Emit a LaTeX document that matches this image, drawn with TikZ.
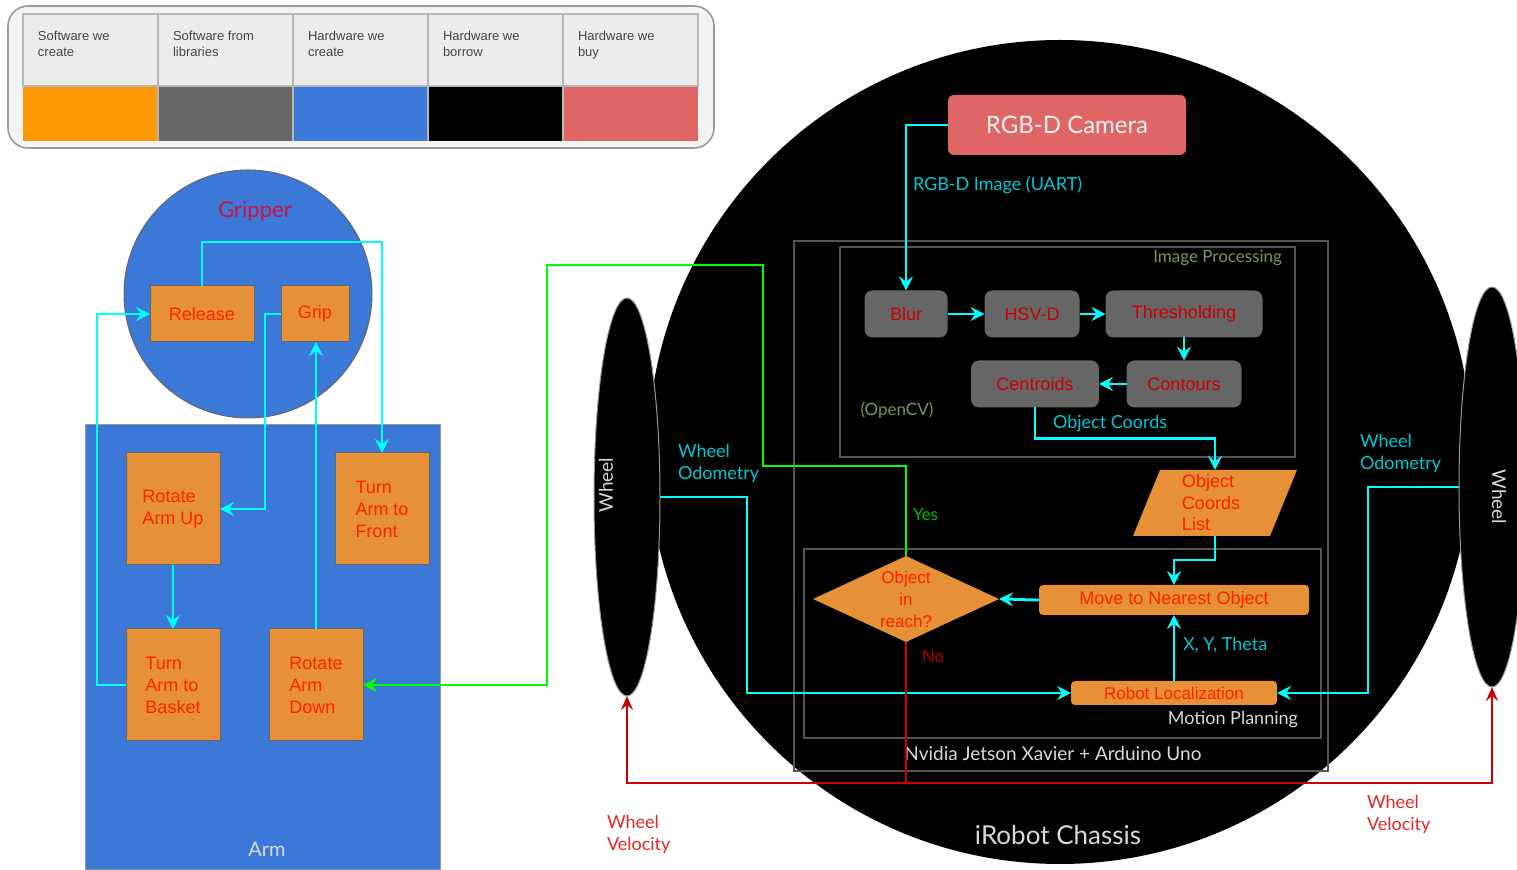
\documentclass[tikz,border=0pt]{standalone}
\usepackage{fontspec}
\setmainfont{Liberation Sans}
\newfontfamily\latofont{Lato}
\usetikzlibrary{arrows.meta,shapes.geometric}
\definecolor{cff9900}{RGB}{255,153,0}
\definecolor{c666666}{RGB}{102,102,102}
\definecolor{c3c78d8}{RGB}{60,120,216}
\definecolor{ce06666}{RGB}{224,102,102}
\definecolor{ce69138}{RGB}{230,145,56}
\definecolor{cececec}{RGB}{236,236,236}
\definecolor{cf3f3f3}{RGB}{243,243,243}
\definecolor{cb7b7b7}{RGB}{183,183,183}
\definecolor{c999999}{RGB}{153,153,153}
\definecolor{c555555}{RGB}{85,85,85}
\definecolor{c444444}{RGB}{68,68,68}
\definecolor{cff2200}{RGB}{255,34,0}
\definecolor{ccc0000}{RGB}{204,0,0}
\definecolor{caa0000}{RGB}{170,0,0}
\definecolor{ce02828}{RGB}{224,40,40}
\definecolor{c00ffff}{RGB}{0,255,255}
\definecolor{c00c8d2}{RGB}{0,200,210}
\definecolor{c00ff00}{RGB}{0,255,0}
\definecolor{c00c000}{RGB}{0,192,0}
\definecolor{c7a965a}{RGB}{122,150,90}
\definecolor{cd9d9d9}{RGB}{217,217,217}
\definecolor{ccc1144}{RGB}{204,17,68}

\tikzset{
  legtext/.style={anchor=north west, align=left, text=c444444,
    font=\fontsize{6.5}{8}\selectfont},
  armbox/.style={draw=c666666, fill=ce69138, text=cff2200, align=left,
    line width=0.5pt, font=\fontsize{9}{11}\selectfont},
  libbox/.style={fill=c666666, rounded corners=4pt, text=ccc0000,
    font=\fontsize{9}{11}\selectfont},
  planbox/.style={fill=ce69138, rounded corners=2pt, text=cff2200,
    font=\fontsize{8.5}{10.5}\selectfont},
  frame/.style={draw=c555555, line width=0.6pt},
  wheelshape/.style={ellipse, fill=black, draw=c999999, line width=0.5pt},
  greylabel/.style={text=cd9d9d9, font=\latofont\fontsize{9.5}{11}\selectfont},
  cyanlabel/.style={anchor=west, align=left, text=c00c8d2,
    font=\latofont\fontsize{9}{11}\selectfont},
  redlabel/.style={anchor=west, align=left, text=ce02828,
    font=\latofont\fontsize{9}{11}\selectfont},
  cyanarrow/.style={draw=c00ffff, line width=1.4pt,
    -{Stealth[length=7pt,width=7pt,inset=2.5pt]}},
  greenarrow/.style={draw=c00ff00, line width=1.4pt,
    -{Stealth[length=7pt,width=7pt,inset=2.5pt]}},
  redarrow/.style={draw=ccc0000, line width=1.2pt,
    -{Stealth[length=7pt,width=6pt,inset=2.5pt]}}
}

\begin{document}
\begin{tikzpicture}[y=0.5pt,x=0.5pt,yscale=-1, inner sep=0pt, outer sep=0pt]
\useasboundingbox (0,0) rectangle (1517,870);

  % legend
  \path[draw=c999999,fill=cf3f3f3,line width=0.8pt,rounded corners=10pt]
    (8,6) rectangle (714,148);
  \path[draw=cb7b7b7,fill=cececec,line width=0.6pt] (23,14) rectangle (698,86);
  \path[fill=cff9900] (23,86) rectangle (158,141);
  \path[fill=c666666] (158,86) rectangle (293,141);
  \path[fill=c3c78d8] (293,86) rectangle (428,141);
  \path[fill=black] (428,86) rectangle (563,141);
  \path[fill=ce06666] (563,86) rectangle (698,141);
  \path[draw=cb7b7b7,line width=0.6pt] (158,14) -- (158,141) (293,14) -- (293,141)
    (428,14) -- (428,141) (563,14) -- (563,141) (23,86) -- (698,86);
  \node[legtext] (leg1) at (38,31) {Software we\\create};
  \node[legtext] (leg2) at (173,31) {Software from\\libraries};
  \node[legtext] (leg3) at (308,31) {Hardware we\\create};
  \node[legtext] (leg4) at (443,31) {Hardware we\\borrow};
  \node[legtext] (leg5) at (578,31) {Hardware we\\buy};

  % gripper and arm
  \node[circle,fill=c3c78d8,draw=c666666,line width=0.5pt,minimum size=124pt]
    (gripper) at (248,294) {};
  \node[text=ccc1144,font=\latofont\fontsize{11}{13}\selectfont] (gripperlbl)
    at (255,211) {Gripper};
  \node[fill=c3c78d8,draw=c999999,line width=0.5pt,minimum width=177.5pt,
    minimum height=222.5pt] (arm) at (262.5,647.5) {};
  \node[greylabel,font=\latofont\fontsize{10}{12}\selectfont] (armlbl)
    at (267,849) {Arm};

  \node[armbox,minimum width=52pt,minimum height=28pt] (release) at (202,314)
    {Release};
  \node[armbox,minimum width=34pt,minimum height=28pt] (grip) at (315,314)
    {Grip};
  \node[armbox,minimum width=47pt,minimum height=56pt] (rotup) at (173,509)
    {Rotate\\Arm Up};
  \node[armbox,minimum width=47pt,minimum height=56pt] (turnfront) at (382,509)
    {Turn\\Arm to\\Front};
  \node[armbox,minimum width=47pt,minimum height=56pt] (turnbasket) at (173,685)
    {Turn\\Arm to\\Basket};
  \node[armbox,minimum width=47pt,minimum height=56pt] (rotdown) at (316,685)
    {Rotate\\Arm\\Down};

  \draw[cyanarrow] (release.north) -- ++(0,-44) -| (turnfront.north);
  \draw[cyanarrow] (grip.west) -- ++(-16,0) |- (rotup.east);
  \draw[cyanarrow] (rotup.south) -- (turnbasket.north);
  \draw[cyanarrow] (turnbasket.west) -- ++(-29,0) |- (release.west);
  \draw[cyanarrow] (rotdown.north) -- (rotdown.north |- grip.south);

  % chassis
  \node[circle,fill=black,minimum size=412pt] (chassis) at (1060,452) {};
  \node[greylabel,font=\latofont\fontsize{13}{15}\selectfont] (chassislbl)
    at (1058,835) {iRobot Chassis};
  \node[wheelshape,minimum width=33pt,minimum height=199pt] (lwheel)
    at (627,497) {};
  \node[wheelshape,minimum width=33pt,minimum height=200pt] (rwheel)
    at (1492,487) {};
  \node[greylabel,rotate=90] (lwheellbl) at (606,485) {Wheel};
  \node[greylabel,rotate=-90] (rwheellbl) at (1499,497) {Wheel};

  \path[frame] (794,241) rectangle (1328,771);
  \node[greylabel] (jetsonlbl) at (1053,754)
    {Nvidia Jetson Xavier + Arduino Uno};
  \path[frame] (840,247) rectangle (1295,457);
  \node[anchor=east,text=c7a965a,font=\latofont\fontsize{8.5}{10}\selectfont]
    (improclbl) at (1282,258) {Image Processing};
  \node[text=c7a965a,font=\latofont\fontsize{8.5}{10}\selectfont]
    (opencvlbl) at (897,410) {(OpenCV)};
  \path[frame] (804,549) rectangle (1321,738);
  \node[greylabel,anchor=east,font=\latofont\fontsize{9}{11}\selectfont]
    (motionlbl) at (1298,720) {Motion Planning};

  \node[fill=ce06666,rounded corners=3pt,minimum width=119pt,minimum height=30pt,
    text=cf3f3f3,font=\latofont\fontsize{12}{14}\selectfont] (cam)
    at (1067,125) {RGB-D Camera};

  \node[libbox,minimum width=41.5pt,minimum height=23.5pt] (blur) at (906,314)
    {Blur};
  \node[libbox,minimum width=47.5pt,minimum height=23.5pt] (hsvd) at (1032,314)
    {HSV-D};
  \node[libbox,minimum width=78.5pt,minimum height=23.5pt] (thresh)
    at (1184,314) {Thresholding};
  \node[libbox,minimum width=64pt,minimum height=23.5pt] (centroids)
    at (1035,384) {Centroids};
  \node[libbox,minimum width=57.5pt,minimum height=23.5pt] (contours)
    at (1184,384) {Contours};

  \path[fill=ce69138] (1133,536) -- (1160,470) -- (1297,470) -- (1270,536)
    -- cycle;
  \node[align=left,text=cff2200,font=\fontsize{9}{10.75}\selectfont,
    minimum width=40pt,minimum height=33pt] (objlist) at (1211,503)
    {Object\\Coords\\List};
  \node[planbox,minimum width=135pt,minimum height=15pt,
    font=\fontsize{9}{11}\selectfont] (move) at (1174,600)
    {Move to Nearest Object};
  \node[diamond,fill=ce69138,minimum width=93pt,minimum height=43pt] (reach)
    at (906,599) {};
  \node[align=center,text=cff2200,font=\fontsize{8.5}{11}\selectfont]
    (reachlbl) at (906,599) {Object\\in\\reach?};
  \node[planbox,minimum width=103pt,minimum height=12pt] (robloc)
    at (1174,693) {Robot Localization};

  \draw[cyanarrow] (cam.west) -| (blur.north);
  \node[cyanlabel] (imagelbl) at (913,185) {RGB-D Image (UART)};
  \draw[cyanarrow] (blur.east) -- (hsvd.west);
  \draw[cyanarrow] (hsvd.east) -- (thresh.west);
  \draw[cyanarrow] (thresh.south) -- (contours.north);
  \draw[cyanarrow] (contours.west) -- (centroids.east);
  \draw[cyanarrow] (centroids.south) -- ++(0,31) -| ([xshift=2pt]objlist.north);
  \node[cyanlabel] (coordslbl) at (1053,424) {Object Coords};
  \draw[cyanarrow] ([xshift=2pt]objlist.south) -- ++(0,24) -| (move.north);
  \draw[cyanarrow] (move.west) -- (reach.east);
  \draw[cyanarrow] (robloc.north) -- (move.south);
  \node[cyanlabel] (xytlbl) at (1183,645) {X, Y, Theta};
  \draw[cyanarrow] (lwheel.east) -- ++(87,0) |- (robloc.west);
  \node[cyanlabel] (lodolbl) at (678,463) {Wheel\\Odometry};
  \draw[cyanarrow] (rwheel.west) -- ++(-91,0) |- (robloc.east);
  \node[cyanlabel] (rodolbl) at (1360,453) {Wheel\\Odometry};

  \draw[greenarrow] (reach.north) |- (763,466) |- (547,265) |- (rotdown.east);
  \node[anchor=west,text=c00c000,font=\latofont\fontsize{8.5}{10}\selectfont]
    (yeslbl) at (913,514) {Yes};

  \coordinate (nosplit) at (906,783);
  \draw[redarrow] (reach.south) -- (nosplit) -| (lwheel.south);
  \draw[redarrow] (nosplit) -| (rwheel.south);
  \node[anchor=west,text=caa0000,font=\latofont\fontsize{8.5}{10}\selectfont]
    (nolbl) at (922,656) {No};
  \node[redlabel] (lvellbl) at (607,834) {Wheel\\Velocity};
  \node[redlabel] (rvellbl) at (1367,814) {Wheel\\Velocity};
\end{tikzpicture}
\end{document}
